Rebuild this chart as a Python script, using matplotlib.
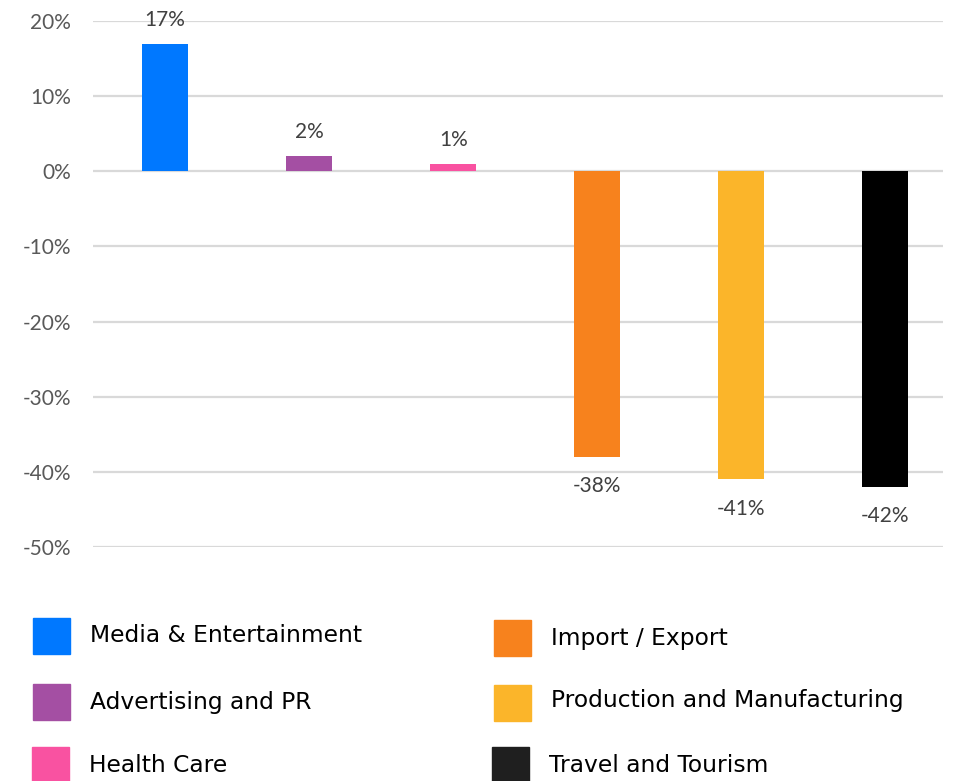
import matplotlib
matplotlib.use("Agg")
import matplotlib.pyplot as plt
from matplotlib.patches import Rectangle
from matplotlib.ticker import FuncFormatter

categories = ["Media & Entertainment", "Advertising and PR", "Health Care",
              "Import / Export", "Production and Manufacturing", "Travel and Tourism"]
values = [17, 2, 1, -38, -41, -42]
colors = ["#0078FF", "#A44FA3", "#F952A1", "#F7821D", "#FBB52A", "#000000"]
legend_colors = ["#0078FF", "#A44FA3", "#F952A1", "#F7821D", "#FBB52A", "#1F1F1F"]
yticks = [20, 10, 0, -10, -20, -30, -40, -50]

W, H = 961, 781
fig = plt.figure(figsize=(W / 100, H / 100), dpi=100)
ax = fig.add_axes([93 / W, 1 - 547 / H, (943 - 93) / W, (547 - 21) / H])

x = list(range(len(categories)))
ax.bar(x, values, width=0.32, color=colors, zorder=3)
ax.set_xlim(-0.5, 5.4)
ax.set_ylim(-50, 20)
ax.set_yticks(yticks)
ax.yaxis.set_major_formatter(FuncFormatter(lambda v, p: f"{int(v)}%"))
ax.grid(axis="y", color="#D9D9D9", linewidth=1.6, zorder=0)
ax.set_xticks([])
for s in ax.spines.values():
    s.set_visible(False)
ax.tick_params(axis="y", length=0, pad=16, labelsize=15, labelcolor="#595959")
for lbl in ax.get_yticklabels():
    lbl.set_fontfamily("Lato")

for xi, v in zip(x, values):
    if v >= 0:
        ax.annotate(f"{v}%", (xi, v), xytext=(0, 10), textcoords="offset points",
                    ha="center", va="bottom", fontsize=15, color="#404040",
                    family="Lato")
    else:
        ax.annotate(f"{v}%", (xi, v), xytext=(0, -14), textcoords="offset points",
                    ha="center", va="top", fontsize=15, color="#404040",
                    family="Lato")

# legend (manual, two columns)
leg_pos = [(33, 618, 636), (33, 684, 702), (32, 747, 766),
           (494, 620, 638), (494, 685, 700), (492, 747, 766)]
for (px, py, ty), c, lab in zip(leg_pos, legend_colors, categories):
    fig.patches.append(Rectangle((px / W, 1 - (py + 36) / H), 37 / W, 36 / H,
                                 transform=fig.transFigure, color=c))
    fig.text((px + 57) / W, 1 - ty / H, lab, ha="left", va="center",
             fontsize=16.8, color="#000000", family="DejaVu Sans")

fig.savefig("out.png", dpi=100)
